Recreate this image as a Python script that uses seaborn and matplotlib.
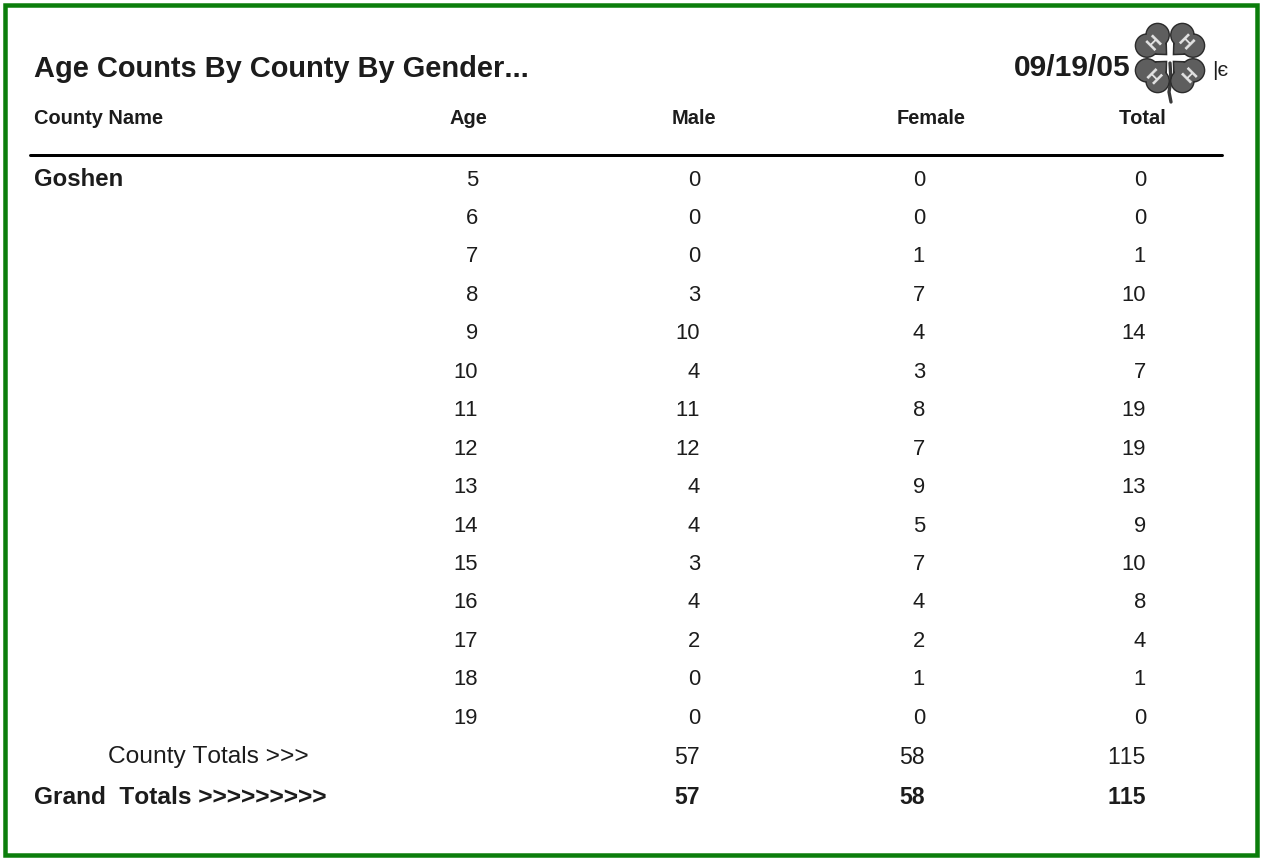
import matplotlib
matplotlib.use("Agg")
import matplotlib.pyplot as plt
from matplotlib.patches import Rectangle, Circle, Polygon
import seaborn as sns
import numpy as np

# ---- data ----
title = "Age Counts By County By Gender..."
report_date = "09/19/05"
columns = ["County Name", "Age", "Male", "Female", "Total"]
county = "Goshen"
ages = [5, 6, 7, 8, 9, 10, 11, 12, 13, 14, 15, 16, 17, 18, 19]
male = [0, 0, 0, 3, 10, 4, 11, 12, 4, 4, 3, 4, 2, 0, 0]
female = [0, 0, 1, 7, 4, 3, 8, 7, 9, 5, 7, 4, 2, 1, 0]
total = [0, 0, 1, 10, 14, 7, 19, 19, 13, 9, 10, 8, 4, 1, 0]
county_totals = [57, 58, 115]
grand_totals = [57, 58, 115]

sns.set_theme(style="white")
plt.rcParams["font.family"] = ["Liberation Sans", "DejaVu Sans"]
plt.rcParams["text.kerning_factor"] = 20  # no kerning: tabular-looking digits

W, H = 1263, 859
fig = plt.figure(figsize=(W / 100, H / 100), dpi=100)
ax = fig.add_axes([0, 0, 1, 1])
ax.set_xlim(0, W)
ax.set_ylim(H, 0)
ax.axis("off")

def pt(px):
    return px * 72 / 100

ink = "#1c1c1c"

# green border
ax.add_patch(Rectangle((5, 5), 1252, 850, fill=False, edgecolor="#0b7d0b", linewidth=pt(4.5)))

# title & date
ax.text(34, 69, title, fontsize=pt(29), fontweight="bold", color=ink, va="center", ha="left")
ax.text(1131, 68, report_date, fontsize=pt(30), fontweight="bold", color=ink, va="center", ha="right")

# 4-H clover logo
cx, cy = 1170, 58
leaf_col = "#5e5e5e"
edge_col = "#2c2c2c"
ax.plot([cx, cx + 1, cx - 1, cx + 1], [cy + 5, cy + 22, cy + 34, cy + 44],
        color="#3a3a3a", linewidth=2.4, zorder=2)
for ang in [45, 135, 225, 315]:
    a = np.deg2rad(ang)
    d = np.array([np.cos(a), -np.sin(a)])
    p = np.array([-d[1], d[0]])
    c = np.array([cx, cy])
    l1 = c + d * 25 + p * 7.5
    l2 = c + d * 25 - p * 7.5
    tri = [c + d * 5, c + d * 22 + p * 16, c + d * 22 - p * 16]
    ax.add_patch(Polygon(tri, closed=True, facecolor=leaf_col, edgecolor=edge_col,
                         linewidth=1.2, zorder=3))
    for l in (l1, l2):
        ax.add_patch(Circle(l, 11.5, facecolor=leaf_col, edgecolor=edge_col, linewidth=1.2, zorder=3))
    tri_in = [c + d * 6.5, c + d * 22 + p * 14.5, c + d * 22 - p * 14.5]
    ax.add_patch(Polygon(tri_in, closed=True, facecolor=leaf_col, edgecolor="none", zorder=3.5))
    for l in (l1, l2):
        ax.add_patch(Circle(l, 10.8, facecolor=leaf_col, edgecolor="none", zorder=3.5))
    hc = c + d * 21
    ax.text(hc[0], hc[1], "H", fontsize=pt(18), fontweight="bold", color="#e4e4e4",
            ha="center", va="center", rotation=ang - 90, zorder=4)
ax.text(1212, 70, "|є", fontsize=pt(21), color=ink, va="center", ha="left")

# header row
hdr_y = 118
hdr_fs = pt(20)
ax.text(34, hdr_y, columns[0], fontsize=hdr_fs, fontweight="bold", color=ink, va="center", ha="left")
for label, x in zip(columns[1:], [468, 694, 931, 1143]):
    ax.text(x, hdr_y, label, fontsize=hdr_fs, fontweight="bold", color=ink, va="center", ha="center")

ax.plot([30, 1222], [155, 155], color="black", linewidth=pt(3))

# body
row_y0, row_dy = 180, 38.45
fs = pt(22)
ax.text(34, row_y0, county, fontsize=pt(24), fontweight="bold", color=ink, va="center", ha="left")
col_x = [478, 700, 925, 1146]
for i, (a, m, f, t) in enumerate(zip(ages, male, female, total)):
    y = row_y0 + i * row_dy
    for v, x in zip([a, m, f, t], col_x):
        ax.text(x, y, str(v), fontsize=fs, color=ink, va="center", ha="right")

tfs = pt(24.5)
ct_y, gt_y = 757, 798
ax.text(108, ct_y, "County Totals >>>", fontsize=tfs, color=ink, va="center", ha="left")
ax.text(34, gt_y, "Grand  Totals >>>>>>>>>", fontsize=tfs, fontweight="bold", color=ink,
        va="center", ha="left")
for v, x in zip(county_totals, col_x[1:]):
    ax.text(x, ct_y, str(v), fontsize=pt(23), color=ink, va="center", ha="right")
for v, x in zip(grand_totals, col_x[1:]):
    ax.text(x, gt_y, str(v), fontsize=pt(23), fontweight="bold", color=ink, va="center", ha="right")

fig.savefig("out.png", dpi=100, facecolor="white")
